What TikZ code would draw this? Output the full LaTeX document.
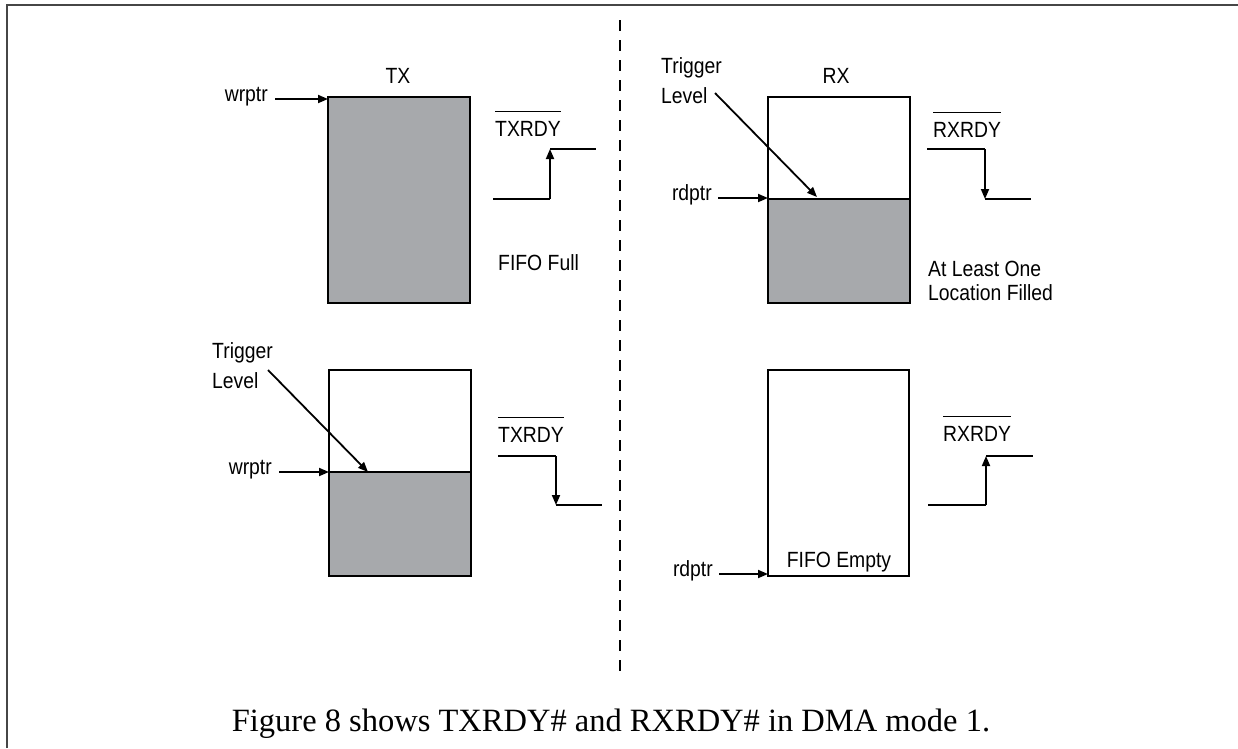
\documentclass[tikz,border=0pt]{standalone}
\usepackage{fontspec}
\setmainfont{Liberation Sans}[FakeStretch=0.88]
\newfontfamily\capfont{Liberation Serif}
\usetikzlibrary{arrows.meta}
\definecolor{fifogray}{RGB}{167,169,172}
\definecolor{framegray}{RGB}{70,70,70}
\begin{document}
\begin{tikzpicture}[x=1pt,y=-1pt,
  lbl/.style={font=\fontsize{22}{28}\selectfont, inner sep=0pt},
  boxline/.style={draw=black, line width=2.2pt},
  ptr/.style={-{Triangle[length=10pt,width=8pt]}, line width=1.8pt},
  sig/.style={line width=1.8pt},
  ovl/.style={line width=1.4pt}]
\useasboundingbox (0,0) rectangle (1238,748);
% frame
\draw[line width=2.5pt, framegray] (7,748) -- (7,5) -- (1238,5);
% divider
\draw[line width=2pt, dash pattern=on 11pt off 9pt] (620,20) -- (620,680);

% ---------- TX full ----------
\fill[fifogray] (328,97) rectangle (470,303);
\draw[boxline] (328,97) rectangle (470,303);
\node[lbl, anchor=base] (txA) at (398,83) {TX};
\node[lbl, anchor=mid east] (wrA) at (268,99) {wrptr};
\coordinate (txAtl) at (328,99);
\draw[ptr] ([xshift=7pt]wrA.mid east) -- (txAtl);
\node[lbl, anchor=base west] (txrA) at (495,136) {TXRDY};
\draw[ovl] ([yshift=9pt]txrA.north west) -- ([yshift=9pt]txrA.north east);
\coordinate (sA1) at (493,199);
\coordinate (sA2) at (550,199);
\coordinate (sA3) at (550,149);
\coordinate (sA4) at (596,149);
\draw[sig] (sA1) -- (sA2);
\draw[ptr] (sA2) -- (sA3);
\draw[sig] (sA3) -- (sA4);
\node[lbl, anchor=base west] (fullA) at (498,270) {FIFO Full};

% ---------- TX trigger ----------
\fill[fifogray] (329,472) rectangle (471,576);
\draw[boxline] (329,370) rectangle (471,576);
\draw[boxline] (329,472) -- (471,472);
\node[lbl, anchor=base west] (trgB) at (212,358) {Trigger};
\node[lbl, anchor=base west] (levB) at (212,388) {Level};
\coordinate (tlBs) at (268,370);
\coordinate (tlBe) at (368,472);
\draw[ptr] (tlBs) -- (tlBe);
\node[lbl, anchor=mid east] (wrB) at (272,472) {wrptr};
\coordinate (txBl) at (329,472);
\draw[ptr] ([xshift=7pt]wrB.mid east) -- (txBl);
\node[lbl, anchor=base west] (txrB) at (498,442) {TXRDY};
\draw[ovl] ([yshift=9pt]txrB.north west) -- ([yshift=9pt]txrB.north east);
\coordinate (sB1) at (498,456);
\coordinate (sB2) at (556,456);
\coordinate (sB3) at (556,505);
\coordinate (sB4) at (602,505);
\draw[sig] (sB1) -- (sB2);
\draw[ptr] (sB2) -- (sB3);
\draw[sig] (sB3) -- (sB4);

% ---------- RX at least one ----------
\fill[fifogray] (768,199) rectangle (910,303);
\draw[boxline] (768,97) rectangle (910,303);
\draw[boxline] (768,199) -- (910,199);
\node[lbl, anchor=base] (rxC) at (836,83) {RX};
\node[lbl, anchor=base west] (trgC) at (661,73) {Trigger};
\node[lbl, anchor=base west] (levC) at (661,103) {Level};
\coordinate (tlCs) at (715,93);
\coordinate (tlCe) at (817,197);
\draw[ptr] (tlCs) -- (tlCe);
\node[lbl, anchor=mid east] (rdC) at (712,198) {rdptr};
\coordinate (rxCl) at (768,198);
\draw[ptr] ([xshift=6pt]rdC.mid east) -- (rxCl);
\node[lbl, anchor=base west] (rxrC) at (933,137) {RXRDY};
\draw[ovl] ([yshift=9pt]rxrC.north west) -- ([yshift=9pt]rxrC.north east);
\coordinate (sC1) at (927,149);
\coordinate (sC2) at (985,149);
\coordinate (sC3) at (985,199);
\coordinate (sC4) at (1031,199);
\draw[sig] (sC1) -- (sC2);
\draw[ptr] (sC2) -- (sC3);
\draw[sig] (sC3) -- (sC4);
\node[lbl, anchor=base west] (alC1) at (928,276) {At Least One};
\node[lbl, anchor=base west] (alC2) at (928,300) {Location Filled};

% ---------- RX empty ----------
\draw[boxline] (768,370) rectangle (909,576);
\node[lbl, anchor=base] (emD) at (839,567) {FIFO Empty};
\node[lbl, anchor=mid east] (rdD) at (713,574) {rdptr};
\coordinate (rxDl) at (768,574);
\draw[ptr] ([xshift=6pt]rdD.mid east) -- (rxDl);
\node[lbl, anchor=base west] (rxrD) at (943,441) {RXRDY};
\draw[ovl] ([yshift=9pt]rxrD.north west) -- ([yshift=9pt]rxrD.north east);
\coordinate (sD1) at (928,505);
\coordinate (sD2) at (986,505);
\coordinate (sD3) at (986,456);
\coordinate (sD4) at (1033,456);
\draw[sig] (sD1) -- (sD2);
\draw[ptr] (sD2) -- (sD3);
\draw[sig] (sD3) -- (sD4);

% caption
\node[font=\capfont\fontsize{32.5}{38}\selectfont, inner sep=0pt, anchor=base] (cap) at (611,731) {Figure 8 shows TXRDY\# and RXRDY\# in DMA mode 1.};
\end{tikzpicture}
\end{document}
